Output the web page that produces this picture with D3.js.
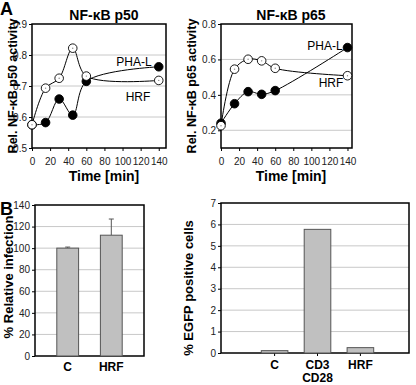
<!DOCTYPE html>
<html>
<head>
<meta charset="utf-8">
<script src="https://cdn.jsdelivr.net/npm/d3@7"></script>
<style>
  body { margin: 0; background: #fff; }
  svg { font-family: "Liberation Sans", Arial, sans-serif; }
  .tick text { font-size: 10px; fill: #222; }
  .domain { stroke: #000; }
  .tick line { stroke: #000; }
</style>
</head>
<body>
<svg width="416" height="385"></svg>
<script>
const timePoints = [0, 15, 30, 45, 60, 140];
const p50PHAL = [0.575, 0.582, 0.658, 0.606, 0.715, 0.762];
const p50HRF = [0.575, 0.693, 0.725, 0.822, 0.732, 0.718];
const p65PHAL = [0.24, 0.35, 0.418, 0.403, 0.424, 0.667];
const p65HRF = [0.226, 0.545, 0.601, 0.592, 0.55, 0.508];
const timeTicks = [0, 20, 40, 60, 80, 100, 120, 140];

const infCategories = ["C", "HRF"];
const infValues = [100, 112];
const infErrors = [1, 15];
const infTicks = [0, 20, 40, 60, 80, 100, 120, 140];

const egfpCategories = ["C", "CD3 CD28", "HRF"];
const egfpValues = [0.11, 5.77, 0.25];
const egfpTicks = [0, 1, 2, 3, 4, 5, 6, 7];

const svg = d3.select("svg");

// panel letters
svg.append("text").attr("x", 0).attr("y", 15).attr("font-size", 18).attr("font-weight", "bold").text("A");
svg.append("text").attr("x", 0).attr("y", 215).attr("font-size", 18).attr("font-weight", "bold").text("B");

function yLabel(x, y, txt, size) {
  svg.append("text")
    .attr("transform", `translate(${x},${y}) rotate(-90)`)
    .attr("text-anchor", "middle")
    .attr("font-size", size).attr("font-weight", "bold")
    .text(txt);
}

function frame(x0, x1, y0, y1, grid, yScale) {
  svg.append("g").selectAll("line").data(grid).join("line")
    .attr("x1", x0).attr("x2", x1)
    .attr("y1", d => yScale(d)).attr("y2", d => yScale(d))
    .attr("stroke", "#c8c8c8").attr("stroke-width", 1);
  svg.append("rect")
    .attr("x", x0).attr("y", y1).attr("width", x1 - x0).attr("height", y0 - y1)
    .attr("fill", "none").attr("stroke", "#000").attr("stroke-width", 1.5);
}

function linePanel(cfg) {
  const x = d3.scaleLinear().domain(cfg.xDomain).range([cfg.left, cfg.right]);
  const y = d3.scaleLinear().domain(cfg.yDomain).range([cfg.bottom, cfg.top]);
  frame(cfg.left, cfg.right, cfg.bottom, cfg.top, cfg.grid, y);

  svg.append("g").attr("transform", `translate(0,${cfg.bottom})`)
    .call(d3.axisBottom(x).tickValues(timeTicks).tickSize(3).tickPadding(7).tickFormat(d3.format("d")))
    .call(g => g.select(".domain").remove());
  svg.append("g").attr("transform", `translate(${cfg.left},0)`)
    .call(d3.axisLeft(y).tickValues(cfg.yTicks).tickSize(3).tickPadding(2).tickFormat(d3.format(".1f")))
    .call(g => g.select(".domain").remove());

  const line = d3.line()
    .x((d, i) => x(timePoints[i]))
    .y(d => y(d))
    .curve(d3.curveCatmullRom.alpha(0.5));

  [cfg.filled, cfg.open].forEach(vals => {
    svg.append("path").datum(vals)
      .attr("d", line).attr("fill", "none").attr("stroke", "#000").attr("stroke-width", 1);
  });
  [[cfg.filled, "#000"], [cfg.open, "#fff"]].forEach(([vals, fill]) => {
    const g = svg.append("g");
    g.selectAll("circle").data(vals).join("circle")
      .attr("cx", (d, i) => x(timePoints[i])).attr("cy", d => y(d))
      .attr("r", 4.3).attr("fill", fill).attr("stroke", "#000").attr("stroke-width", 0.9);
    if (fill === "#fff") {
      g.selectAll("circle.dot").data(vals).join("circle").attr("class", "dot")
        .attr("cx", (d, i) => x(timePoints[i])).attr("cy", d => y(d))
        .attr("r", 0.7).attr("fill", "#888");
    }
  });

  svg.append("text").attr("x", cfg.titleX).attr("y", 20).attr("text-anchor", "middle")
    .attr("font-size", 14).attr("font-weight", "bold").text(cfg.title);
  svg.append("text").attr("x", cfg.titleX).attr("y", 181).attr("text-anchor", "middle")
    .attr("font-size", 14).attr("font-weight", "bold").text("Time [min]");
  svg.append("text").attr("x", cfg.phaX).attr("y", cfg.phaY).attr("text-anchor", "middle")
    .attr("font-size", 12).text("PHA-L");
  svg.append("text").attr("x", cfg.hrfX).attr("y", cfg.hrfY).attr("text-anchor", "middle")
    .attr("font-size", 12).text("HRF");
  yLabel(cfg.labelX, 86, cfg.yTitle, 12.5);
}

linePanel({
  left: 32, right: 166, top: 24, bottom: 148,
  xDomain: [0, 148], yDomain: [0.5, 0.9],
  yTicks: [0.5, 0.6, 0.7, 0.8, 0.9], grid: [0.6, 0.7, 0.8],
  filled: p50PHAL, open: p50HRF,
  title: "NF-κB p50", titleX: 104,
  phaX: 134, phaY: 66, hrfX: 138, hrfY: 101,
  labelX: 17, yTitle: "Rel. NF-κB p50 activity"
});

linePanel({
  left: 221, right: 352, top: 24, bottom: 148,
  xDomain: [0, 145], yDomain: [0.1, 0.8],
  yTicks: [0.2, 0.4, 0.6, 0.8], grid: [0.2, 0.4, 0.6],
  filled: p65PHAL, open: p65HRF,
  title: "NF-κB p65", titleX: 291,
  phaX: 325, phaY: 50, hrfX: 331, hrfY: 87,
  labelX: 196, yTitle: "Rel. NF-κB p65 activity"
});

// Panel B left: relative infection
(function () {
  const left = 35, right = 144, top = 205, bottom = 356;
  const x = d3.scaleBand().domain(infCategories).range([left, right]).padding(0.5);
  const y = d3.scaleLinear().domain([0, 140]).range([bottom, top]);
  frame(left, right, bottom, top, [20, 40, 60, 80, 100, 120], y);
  svg.append("g").attr("transform", `translate(${left},0)`)
    .call(d3.axisLeft(y).tickValues(infTicks).tickSize(3).tickPadding(2).tickFormat(d3.format("d")))
    .call(g => g.select(".domain").remove());
  const cx = d => x(d) + x.bandwidth() / 2;
  svg.append("g").selectAll("line").data(infCategories).join("line")
    .attr("x1", d => cx(d)).attr("x2", d => cx(d))
    .attr("y1", (d, i) => y(infValues[i]))
    .attr("y2", (d, i) => y(infValues[i] + infErrors[i]))
    .attr("stroke", "#555").attr("stroke-width", 1);
  svg.append("g").selectAll("line").data(infCategories).join("line")
    .attr("x1", d => cx(d) - 2.5).attr("x2", d => cx(d) + 2.5)
    .attr("y1", (d, i) => y(infValues[i] + infErrors[i]))
    .attr("y2", (d, i) => y(infValues[i] + infErrors[i]))
    .attr("stroke", "#555").attr("stroke-width", 1);
  svg.append("g").selectAll("rect").data(infValues).join("rect")
    .attr("x", (d, i) => x(infCategories[i])).attr("width", x.bandwidth())
    .attr("y", d => y(d)).attr("height", d => bottom - y(d))
    .attr("fill", "#c0c0c0").attr("stroke", "#555").attr("stroke-width", 1);
  svg.append("g").selectAll("text").data(infCategories).join("text")
    .attr("x", d => cx(d)).attr("y", 371)
    .attr("text-anchor", "middle").attr("font-size", 12).attr("font-weight", "bold")
    .text(d => d);
  yLabel(13, 277, "% Relative infection", 13);
})();

// Panel B right: EGFP positive cells
(function () {
  const left = 221, right = 409, top = 203, bottom = 353;
  const x = d3.scaleBand().domain(egfpCategories).range([left + 24, left + 169]).padding(0.38);
  const y = d3.scaleLinear().domain([0, 7]).range([bottom, top]);
  frame(left, right, bottom, top, [1, 2, 3, 4, 5, 6], y);
  svg.append("g").attr("transform", `translate(${left},0)`)
    .call(d3.axisLeft(y).tickValues(egfpTicks).tickSize(3).tickPadding(2).tickFormat(d3.format("d")))
    .call(g => g.select(".domain").remove());
  svg.append("g").attr("transform", `translate(0,${bottom})`)
    .call(d3.axisBottom(x).tickSize(3).tickFormat(""))
    .call(g => g.select(".domain").remove());
  svg.append("g").selectAll("rect").data(egfpValues).join("rect")
    .attr("x", (d, i) => x(egfpCategories[i])).attr("width", x.bandwidth())
    .attr("y", d => y(d)).attr("height", d => bottom - y(d))
    .attr("fill", "#c0c0c0").attr("stroke", "#555").attr("stroke-width", 1);
  const lbl = svg.append("g").selectAll("text").data(egfpCategories).join("text")
    .attr("x", d => x(d) + x.bandwidth() / 2).attr("y", 369)
    .attr("text-anchor", "middle").attr("font-size", 12).attr("font-weight", "bold");
  lbl.each(function (d) {
    const parts = d.split(" ");
    d3.select(this).selectAll("tspan").data(parts).join("tspan")
      .attr("x", x(d) + x.bandwidth() / 2).attr("dy", (p, i) => i ? 12.5 : 0).text(p => p);
  });
  yLabel(193, 288, "% EGFP positive cells", 13);
})();
</script>
</body>
</html>
